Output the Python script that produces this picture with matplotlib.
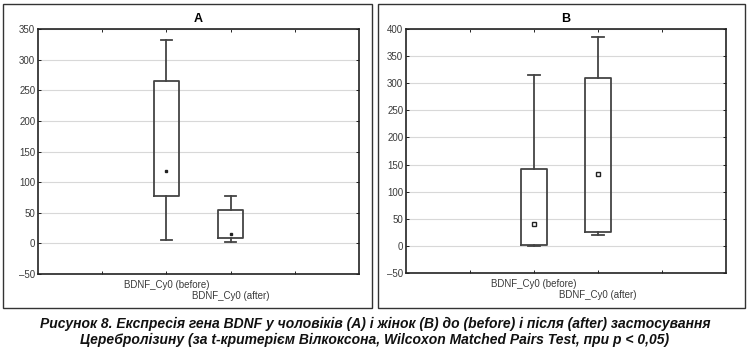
import matplotlib
matplotlib.use('Agg')
import matplotlib.pyplot as plt
from matplotlib.patches import Rectangle

# values
labels = ['BDNF_Cy0 (before)', 'BDNF_Cy0 (after)']
men_low = [5, 2]
men_q1 = [78, 8]
men_med = [118, 15]
men_q3 = [265, 55]
men_high = [332, 77]

women_low = [-1, 20]
women_q1 = [2, 26]
women_med = [40, 133]
women_q3 = [142, 310]
women_high = [316, 385]

men_yticks = list(range(-50, 351, 50))
women_yticks = list(range(-50, 401, 50))

caption = ('Рисунок 8. Експресія гена BDNF у чоловіків (A) і жінок (B) до (before) і після (after) застосування\n'
           'Церебролізину (за t-критерієм Вілкоксона, Wilcoxon Matched Pairs Test, при p < 0,05)')

plt.rcParams['font.family'] = ['Liberation Sans Narrow', 'Liberation Sans', 'DejaVu Sans']

fig = plt.figure(figsize=(7.5, 3.51), dpi=100)

# panel frames
for x0 in (3, 378):
    w = 369 if x0 == 3 else 367
    fig.add_artist(Rectangle((x0 / 750, 1 - 308 / 351), w / 750, 304 / 351,
                             transform=fig.transFigure, fill=False,
                             edgecolor='#333333', lw=1.0))


def draw_panel(ax, title, low, q1, med, q3, high, yticks, marker):
    stats = []
    for i in range(len(labels)):
        stats.append({'whislo': low[i], 'q1': q1[i], 'med': med[i],
                      'q3': q3[i], 'whishi': high[i], 'fliers': []})
    lc = '#444444'
    ax.bxp(stats, positions=[2, 3], widths=0.4, capwidths=0.18,
           boxprops=dict(color=lc, lw=1.3),
           whiskerprops=dict(color=lc, lw=1.3),
           capprops=dict(color=lc, lw=1.3),
           medianprops=dict(visible=False), manage_ticks=False)
    if marker == 'dot':
        ax.plot([2, 3], med, 's', color='#222222', ms=1.6, ls='none')
    else:
        ax.plot([2, 3], med, 's', mfc='white', mec='#222222', mew=1.0, ms=3.5, ls='none')
    ax.set_xlim(0, 5)
    ax.set_ylim(yticks[0], yticks[-1])
    ax.set_yticks(yticks)
    ax.set_yticklabels([str(t).replace('-', '–') for t in yticks])
    ax.set_xticks([1, 2, 3, 4])
    ax.set_xticklabels(['', '', '', ''])
    ax.grid(axis='y', color='#d8d8d8', lw=0.8)
    ax.set_axisbelow(True)
    for s in ax.spines.values():
        s.set_color('#222222')
        s.set_linewidth(1.2)
    ax.tick_params(axis='both', direction='in', length=2, width=0.6,
                   labelsize=7, labelcolor='#3a3a3a', top=True, right=True, pad=2)
    ax.text(2, -0.025, labels[0], transform=ax.get_xaxis_transform(),
            ha='center', va='top', fontsize=7, color='#3a3a3a')
    ax.text(3, -0.068, labels[1], transform=ax.get_xaxis_transform(),
            ha='center', va='top', fontsize=7, color='#3a3a3a')
    ax.set_title(title, fontsize=9, fontweight='bold', pad=5,
                 family=['Liberation Sans', 'DejaVu Sans'])


ax1 = fig.add_axes([38 / 750, 1 - 274 / 351, 321 / 750, 245 / 351])
draw_panel(ax1, 'A', men_low, men_q1, men_med, men_q3, men_high, men_yticks, 'dot')

ax2 = fig.add_axes([406 / 750, 1 - 273 / 351, 320 / 750, 244 / 351])
draw_panel(ax2, 'B', women_low, women_q1, women_med, women_q3, women_high, women_yticks, 'square')

fig.text(0.5, 1 - 332 / 351, caption, ha='center', va='center', fontsize=10,
         fontweight='bold', fontstyle='italic', linespacing=1.2, color='#111111')

fig.savefig('out.png', dpi=100)
